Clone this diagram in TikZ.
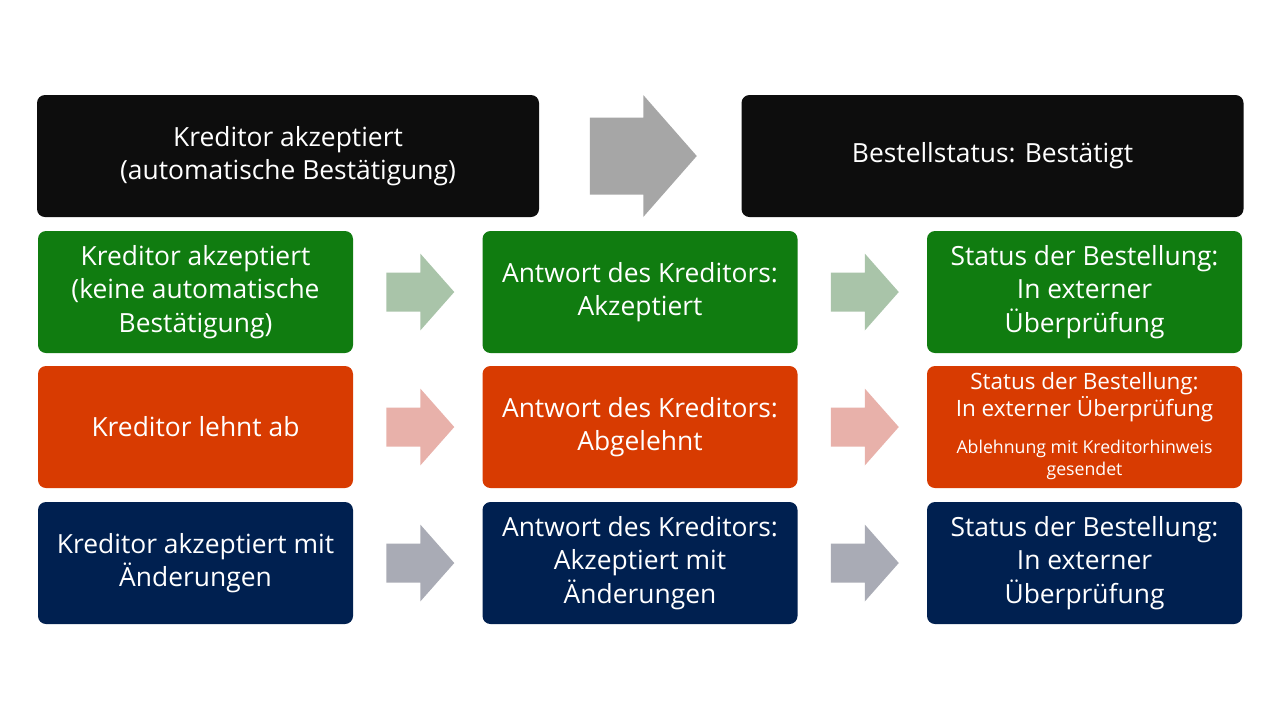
\documentclass[tikz,border=0pt]{standalone}
\usepackage{fontspec}
\setmainfont{Open Sans}
\usetikzlibrary{calc}

\definecolor{boxblack}{HTML}{0D0D0D}
\definecolor{boxgreen}{HTML}{107C10}
\definecolor{boxred}{HTML}{D83B01}
\definecolor{boxnavy}{HTML}{002050}
\definecolor{arrgray}{HTML}{A6A6A6}
\definecolor{arrgreen}{HTML}{A9C4A9}
\definecolor{arrred}{HTML}{E8B1AA}
\definecolor{arrnavy}{HTML}{A9ABB5}

\tikzset{
  statusbox/.style={rounded corners=4pt, text=white, align=center,
    minimum width=157.5pt, minimum height=61pt, inner sep=2pt,
    font=\fontsize{13.2}{16.6}\selectfont},
  topbox/.style={statusbox, fill=boxblack, minimum width=251pt},
  pics/rowarrow/.style={code={
    \fill (-34,-19.5) -- (0,-19.5) -- (0,-38.5) -- (34,0) -- (0,38.5) -- (0,19.5) -- (-34,19.5) -- cycle;
  }},
  pics/toparrow/.style={code={
    \fill (-53.5,-38.5) -- (0,-38.5) -- (0,-61) -- (53.5,0) -- (0,61) -- (0,38.5) -- (-53.5,38.5) -- cycle;
  }}
}

\begin{document}
\begin{tikzpicture}[x=0.5pt, y=-0.5pt]
  \fill[white] (0,0) rectangle (1280,720);
  \useasboundingbox (0,0) rectangle (1280,720);

  % Automatische Bestaetigung
  \node[topbox] (autoin) at (288,156) {Kreditor akzeptiert\\(automatische Bestätigung)};
  \node[topbox] (autoout) at (992.5,156) {Bestellstatus: Bestätigt};
  \pic[fill=arrgray] at ($(autoin.east)!0.5!(autoout.west)+(3,0)$) {toparrow};

  % Akzeptiert
  \node[statusbox, fill=boxgreen] (accin) at (195.5,292) {Kreditor akzeptiert\\(keine automatische\\Bestätigung)};
  \node[statusbox, fill=boxgreen] (accans) at (640,292) {Antwort des Kreditors:\\Akzeptiert};
  \node[statusbox, fill=boxgreen] (accout) at (1084.5,292) {Status der Bestellung:\\In externer\\Überprüfung};

  % Abgelehnt
  \node[statusbox, fill=boxred] (rejin) at (195.5,427) {Kreditor lehnt ab};
  \node[statusbox, fill=boxred] (rejans) at (640,427) {Antwort des Kreditors:\\Abgelehnt};
  \node[statusbox, fill=boxred, font=\fontsize{11.25}{13.5}\selectfont] (rejout) at (1084.5,427)
    {Status der Bestellung:\\In externer Überprüfung\\[7pt]
     {\fontsize{8.85}{11}\selectfont\begin{tabular}{@{}c@{}}Ablehnung mit Kreditorhinweis\\gesendet\end{tabular}}};

  % Akzeptiert mit Aenderungen
  \node[statusbox, fill=boxnavy] (chgin) at (195.5,563) {Kreditor akzeptiert mit\\Änderungen};
  \node[statusbox, fill=boxnavy] (chgans) at (640,563) {Antwort des Kreditors:\\Akzeptiert mit\\Änderungen};
  \node[statusbox, fill=boxnavy] (chgout) at (1084.5,563) {Status der Bestellung:\\In externer\\Überprüfung};

  % Pfeile
  \pic[fill=arrgreen] at ($(accin.east)!0.5!(accans.west)+(2.5,0)$) {rowarrow};
  \pic[fill=arrgreen] at ($(accans.east)!0.5!(accout.west)+(2.5,0)$) {rowarrow};
  \pic[fill=arrred] at ($(rejin.east)!0.5!(rejans.west)+(2.5,0)$) {rowarrow};
  \pic[fill=arrred] at ($(rejans.east)!0.5!(rejout.west)+(2.5,0)$) {rowarrow};
  \pic[fill=arrnavy] at ($(chgin.east)!0.5!(chgans.west)+(2.5,0)$) {rowarrow};
  \pic[fill=arrnavy] at ($(chgans.east)!0.5!(chgout.west)+(2.5,0)$) {rowarrow};
\end{tikzpicture}
\end{document}
